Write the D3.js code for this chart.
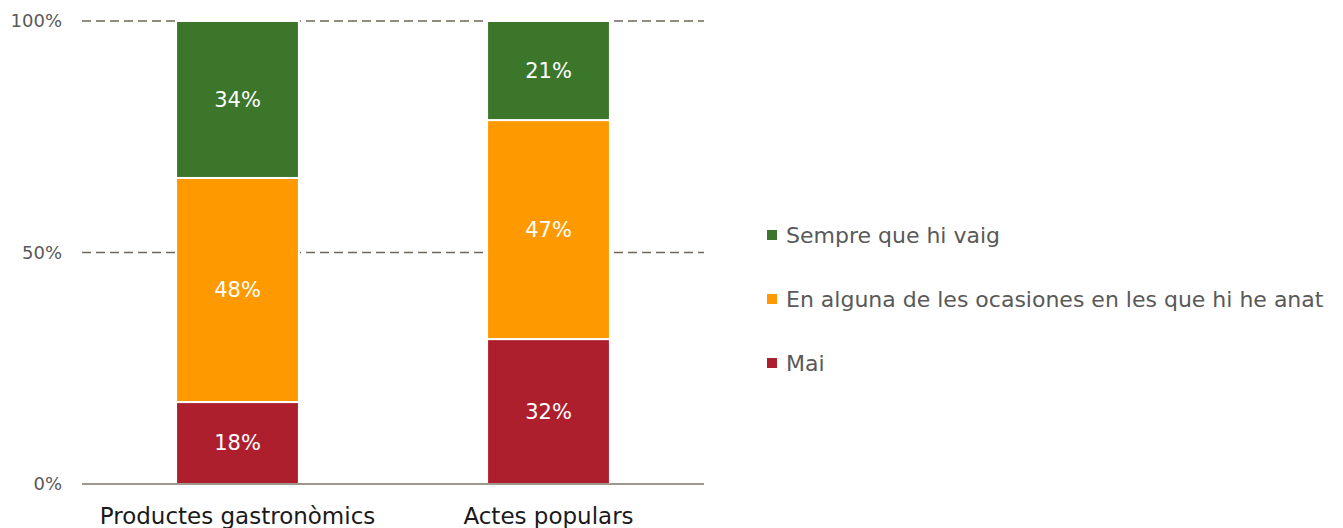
<!DOCTYPE html>
<html>
<head>
<meta charset="utf-8">
<script src="https://cdn.jsdelivr.net/npm/d3@7"></script>
<style>
  body { margin: 0; background: #fff; }
  text { font-family: "Century Gothic", "DejaVu Sans", sans-serif; }
</style>
</head>
<body>
<div id="chart"></div>
<script>
// data (percent of answers)
var categories = ["Productes gastronòmics", "Actes populars"];
var seriesNames = ["Mai", "En alguna de les ocasiones en les que hi he anat", "Sempre que hi vaig"];
var mai      = [17.7, 31.3];
var alguna   = [48.4, 47.3];
var sempre   = [33.9, 21.4];
var labelsMai    = ["18%", "32%"];
var labelsAlguna = ["48%", "47%"];
var labelsSempre = ["34%", "21%"];
var yTicks = [0, 50, 100];
var colors = ["#AE1F2E", "#FF9900", "#3B762B"];

var W = 1343, H = 528;
var plotLeft = 82, plotRight = 704, plotTop = 21, plotBottom = 484;

var svg = d3.select("#chart").append("svg")
    .attr("width", W)
    .attr("height", H);

var x = d3.scaleBand()
    .domain(categories)
    .range([plotLeft, plotRight])
    .paddingInner(0.605)
    .paddingOuter(0.3025);

var y = d3.scaleLinear()
    .domain([0, 100])
    .range([plotBottom, plotTop]);

// gridlines (dashed)
svg.append("g")
    .selectAll("line")
    .data(yTicks.filter(function(d) { return d > 0; }))
    .enter()
    .append("line")
    .attr("x1", plotLeft)
    .attr("x2", plotRight)
    .attr("y1", function(d) { return y(d); })
    .attr("y2", function(d) { return y(d); })
    .attr("stroke", "#6f6658")
    .attr("stroke-width", 1.3)
    .attr("stroke-dasharray", "9,5");

// y tick labels
svg.append("g")
    .selectAll("text")
    .data(yTicks)
    .enter()
    .append("text")
    .attr("x", 62)
    .attr("y", function(d) { return y(d); })
    .attr("dy", "0.35em")
    .attr("text-anchor", "end")
    .attr("font-size", 18)
    .attr("fill", "#595959")
    .text(function(d) { return d + "%"; });

// build stacked table
var rows = categories.map(function(c, i) {
    return { cat: c, Mai: mai[i], Alguna: alguna[i], Sempre: sempre[i],
             labels: [labelsMai[i], labelsAlguna[i], labelsSempre[i]] };
});
var keys = ["Mai", "Alguna", "Sempre"];
var stacked = d3.stack().keys(keys)(rows);

var layers = svg.append("g")
    .selectAll("g")
    .data(stacked)
    .enter()
    .append("g")
    .attr("fill", function(d, i) { return colors[i]; });

layers.selectAll("rect")
    .data(function(d) { return d; })
    .enter()
    .append("rect")
    .attr("x", function(d) { return x(d.data.cat); })
    .attr("y", function(d) { return y(d[1]); })
    .attr("width", x.bandwidth())
    .attr("height", function(d) { return y(d[0]) - y(d[1]); })
    .attr("stroke", "#fff")
    .attr("stroke-width", 2);

// segment labels
layers.each(function(layer, li) {
    d3.select(this).selectAll("text")
        .data(layer)
        .enter()
        .append("text")
        .attr("x", function(d) { return x(d.data.cat) + x.bandwidth() / 2; })
        .attr("y", function(d) { return (y(d[0]) + y(d[1])) / 2; })
        .attr("dy", "0.35em")
        .attr("text-anchor", "middle")
        .attr("font-size", 21)
        .attr("fill", "#fff")
        .text(function(d) { return d.data.labels[li]; });
});

// x axis line
svg.append("line")
    .attr("x1", plotLeft)
    .attr("x2", plotRight)
    .attr("y1", y(0))
    .attr("y2", y(0))
    .attr("stroke", "#7f7566")
    .attr("stroke-width", 1.5);

// category labels
svg.append("g")
    .selectAll("text")
    .data(categories)
    .enter()
    .append("text")
    .attr("x", function(d) { return x(d) + x.bandwidth() / 2; })
    .attr("y", 524)
    .attr("text-anchor", "middle")
    .attr("font-size", 23)
    .attr("fill", "#1a1a1a")
    .text(function(d) { return d; });

// legend, top to bottom: Sempre, Alguna, Mai
var legendItems = [2, 1, 0];
var legend = svg.append("g")
    .selectAll("g")
    .data(legendItems)
    .enter()
    .append("g")
    .attr("transform", function(d, i) { return "translate(767," + (235 + i * 64) + ")"; });

legend.append("rect")
    .attr("x", 0)
    .attr("y", -5)
    .attr("width", 10)
    .attr("height", 10)
    .attr("fill", function(d) { return colors[d]; });

legend.append("text")
    .attr("x", 19)
    .attr("y", 0)
    .attr("dy", "0.35em")
    .attr("font-size", 22)
    .attr("fill", "#595959")
    .text(function(d) { return seriesNames[d]; });
</script>
</body>
</html>
